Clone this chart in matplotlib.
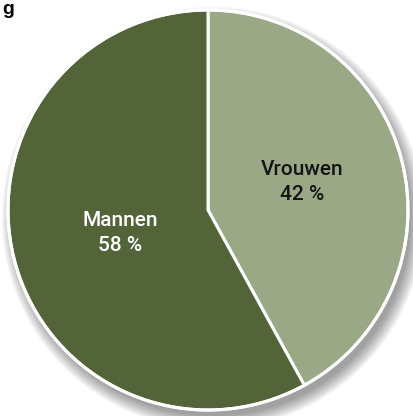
import matplotlib.pyplot as plt
from matplotlib.patches import Circle

# Data
labels = ["Vrouwen", "Mannen"]
shares = [42, 58]
colors = ["#9aa886", "#536439"]
text_colors = ["#141414", "white"]

plt.rcParams["font.family"] = ["Roboto", "DejaVu Sans"]

fig = plt.figure(figsize=(4.14, 4.16), dpi=100)
ax = fig.add_axes([0, 0, 1, 1])

# soft drop shadow below the pie
for k in range(12):
    r = 0.99 + k * 0.006
    ax.add_patch(Circle((0.025, -0.04), r, color="black", alpha=0.035, lw=0, zorder=0))

wedges, _ = ax.pie(shares, colors=colors, startangle=90, counterclock=False,
                   radius=1.0, wedgeprops=dict(edgecolor="white", linewidth=2.2))
for w in wedges:
    w.set_zorder(2)
ax.add_patch(Circle((0, 0), 1.0, fill=False, edgecolor="white", lw=2.2, zorder=3))

# labels
pos = [(0.47, 0.14), (-0.44, -0.115)]
for (x, y), lab, s, tc in zip(pos, labels, shares, text_colors):
    ax.text(x, y, f"{lab}\n{s} %", ha="center", va="center", fontsize=15,
            color=tc, linespacing=1.4, fontweight="medium", zorder=4)

ax.set_xlim(-1.04, 1.03)
ax.set_ylim(-1.03, 1.05)
ax.set_aspect("equal")
ax.axis("off")

fig.text(0.005, 0.998, "g", ha="left", va="top", fontsize=14, fontweight="bold",
         family=["Liberation Sans", "DejaVu Sans"])

fig.savefig("out.png", dpi=100)
